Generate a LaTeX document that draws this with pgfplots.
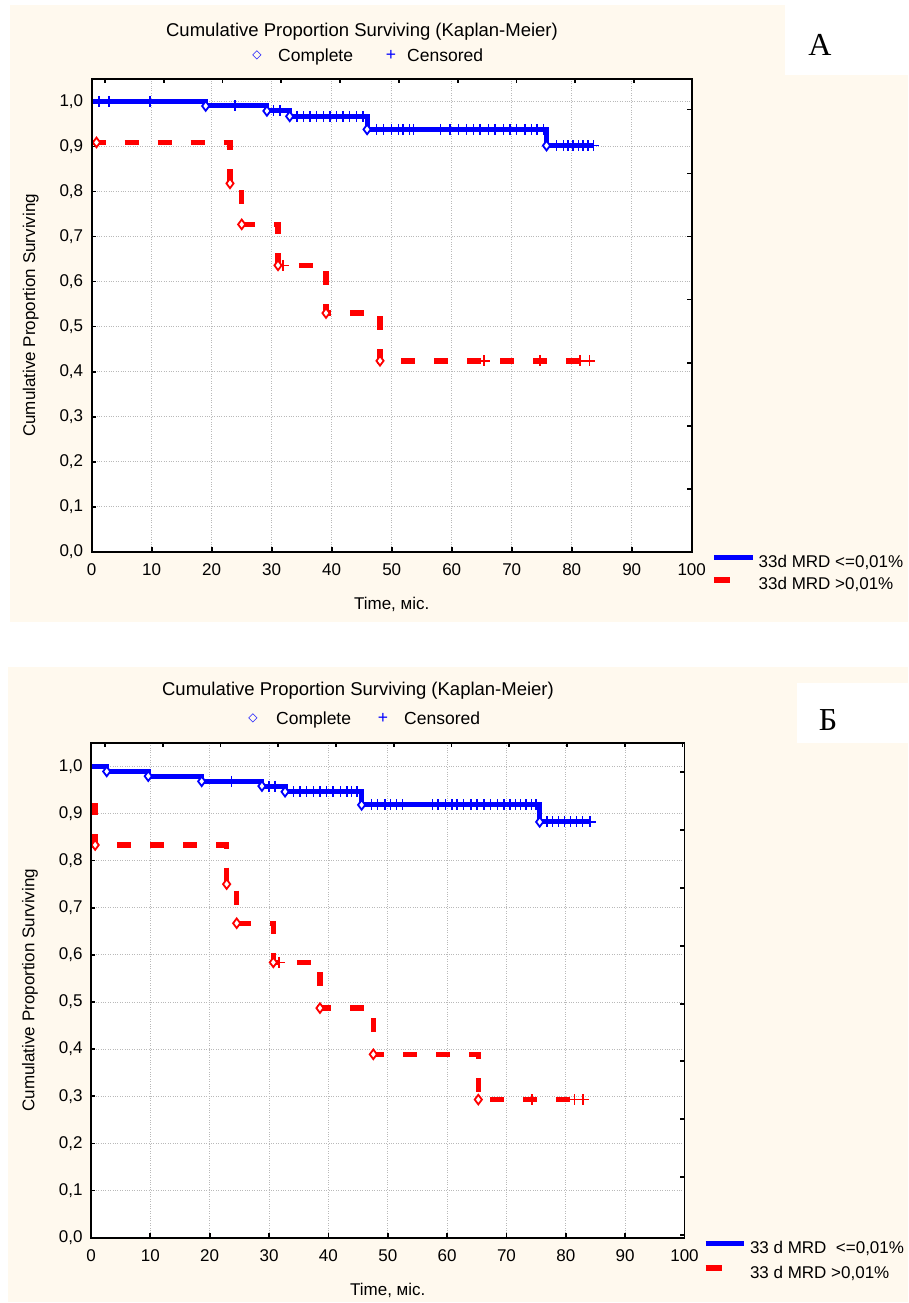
\documentclass[border=0pt]{standalone}
\usepackage{fontspec}
\setmainfont{Liberation Sans}
\newfontfamily\serif{Liberation Serif}
\newfontfamily\dejavu{DejaVu Sans}
\usepackage{pgfplots}
\pgfplotsset{compat=1.18}

\definecolor{bg}{RGB}{255,249,238}
\definecolor{kmblue}{RGB}{0,0,255}
\definecolor{kmred}{RGB}{255,0,0}

\pgfplotsset{
  km/.style={
    scale only axis, anchor=south west,
    xmin=0, xmax=100, ymin=0, ymax=1.05,
    xtick={0,10,20,30,40,50,60,70,80,90,100},
    ytick={0,0.1,0.2,0.3,0.4,0.5,0.6,0.7,0.8,0.9,1.0},
    xtick pos=lower, ytick pos=lower, tick align=inside,
    major tick length=4.5pt,
    major tick style={black, line width=1.8pt},
    axis line style={black, line width=1.8pt},
    grid=major,
    major grid style={gray!55, dotted, line width=0.9pt},
    axis background/.style={fill=white},
    tick label style={font=\fontsize{17}{20}\selectfont},
    /pgf/number format/assume math mode=true,
    yticklabel style={/pgf/number format/fixed, /pgf/number format/fixed zerofill,
      /pgf/number format/precision=1, /pgf/number format/use comma, xshift=-5pt},
    xticklabel style={yshift=-8pt},
    every axis x label/.style={at={(rel axis cs:0.5,0)}, yshift=-52.6pt, anchor=center,
      font=\fontsize{17}{20}\selectfont},
    every axis y label/.style={at={(rel axis cs:0,0.5)}, xshift=-61pt, rotate=90, anchor=center,
      font=\fontsize{17}{20}\selectfont},
    legend cell align=left,
    legend style={draw=none, fill=none, inner sep=0pt, outer sep=0pt,
      font=\fontsize{17}{20}\selectfont,
      nodes={inner sep=0pt, text height=12pt, text depth=3.5pt}},
  },
  kmtop/.style={
    scale only axis, anchor=south west,
    xmin=0, xmax=100, ymin=0, ymax=1.05,
    xtick pos=upper, ytick pos=upper, tick align=inside,
    major tick length=4.5pt,
    major tick style={black, line width=1.8pt},
    axis line style={black, line width=1.8pt},
    xticklabels={}, yticklabels={},
  },
  bline/.style={kmblue, line width=5pt, const plot, line join=miter},
  rline/.style={kmred, line width=5.5pt, const plot, dash pattern=on 14pt off 19pt, line cap=butt},
  bdia/.style={only marks, mark=diamond*, mark size=4.8pt, mark options={draw=kmblue, fill=white, line width=1.8pt, solid}},
  rdia/.style={only marks, mark=diamond*, mark size=4.8pt, mark options={draw=kmred, fill=white, line width=1.8pt, solid}},
  bcross/.style={only marks, mark=+, mark size=5.5pt, mark options={kmblue, line width=1.5pt}},
  rcross/.style={only marks, mark=+, mark size=5.5pt, mark options={kmred, line width=1.5pt}},
}

\begin{document}
\begin{tikzpicture}
\path[use as bounding box] (0pt,0pt) rectangle (908pt,1303pt);
\fill[white] (0pt,0pt) rectangle (908pt,1303pt);
% panel backgrounds
\fill[bg] (10pt,681.3pt) rectangle (908pt,1298pt);
\fill[white] (785pt,1228pt) rectangle (908pt,1303pt);
\fill[bg] (8pt,1.3pt) rectangle (908pt,636pt);
\fill[white] (797pt,560pt) rectangle (908pt,620pt);

% ---------- panel A ----------
\begin{axis}[km, at={(91.7pt,751.3pt)}, width=600pt, height=472.7pt,
  xlabel={Time, міс.},
  ylabel={Cumulative Proportion Surviving},
  legend style={at={(rel axis cs:1,0)}, anchor=north west, xshift=19.5pt, yshift=-3.1pt,
    row sep=5.5pt, column sep=3pt},
]
\addplot[bline, legend image code/.code={\draw[kmblue, solid, line width=5pt] (0pt,6pt) -- (39pt,6pt);}]
  coordinates {(0,1.0) (19,0.990) (29.2,0.979) (33,0.967) (45.9,0.938) (75.8,0.902) (83.6,0.902)};
\addlegendentry{33d MRD <=0,01\%}
\addplot[rline, legend image code/.code={\draw[kmred, solid, line width=6pt] (0pt,6pt) -- (16pt,6pt);}]
  coordinates {(0,0.909) (23.05,0.818) (25.0,0.727) (31.05,0.636) (39.05,0.530) (48.05,0.424) (83.0,0.424)};
\addlegendentry{33d MRD >0,01\%}
\addplot[bcross, forget plot] coordinates {
  (1.2,1.0) (2.9,1.0) (9.7,1.0) (23.9,0.990) (30.3,0.979) (31.4,0.979)
  (34.2,0.967) (35.3,0.967) (36.4,0.967) (37.5,0.967) (38.6,0.967) (39.7,0.967)
  (40.8,0.967) (41.9,0.967) (43.0,0.967) (44.1,0.967) (45.2,0.967)
  (47.5,0.938) (48.6,0.938) (50.0,0.938) (51.1,0.938) (51.9,0.938) (53.0,0.938)
  (53.6,0.938) (58.1,0.938) (59.7,0.938) (61.1,0.938) (62.5,0.938) (63.6,0.938)
  (64.7,0.938) (66.1,0.938) (67.2,0.938) (68.6,0.938) (69.7,0.938) (70.8,0.938)
  (72.2,0.938) (73.3,0.938) (74.2,0.938) (75.3,0.938)
  (77.5,0.902) (78.6,0.902) (79.4,0.902) (80.2,0.902) (81.1,0.902) (81.9,0.902)
  (82.7,0.902) (83.6,0.902)};
\addplot[bdia, forget plot] coordinates {
  (19,0.990) (29.2,0.979) (33,0.967) (45.9,0.938) (75.8,0.902)};
\addplot[rcross, forget plot] coordinates {
  (31.9,0.636) (65.4,0.424) (74.7,0.424) (81.4,0.424) (83.0,0.424)};
\addplot[rdia, forget plot] coordinates {
  (0.8,0.909) (23.05,0.818) (25.0,0.727) (31.05,0.636) (39.05,0.530) (48.05,0.424)};
\end{axis}
\begin{axis}[kmtop, at={(91.7pt,751.3pt)}, width=600pt, height=472.7pt,
  xtick={2.2,12.0,21.8,31.6,41.4,51.2,61.0,70.8,80.6,90.4},
  ytick={0.139,0.279,0.419,0.560,0.700,0.840,0.982}]
\end{axis}
\node[font=\fontsize{18.5}{22}\selectfont] at (362pt,1271pt) {Cumulative Proportion Surviving (Kaplan-Meier)};
\node[kmblue, inner sep=0pt, font=\dejavu\fontsize{12}{12}\selectfont] at (257pt,1248pt) {◇};
\node[anchor=base west, inner sep=0pt, font=\fontsize{17.5}{21}\selectfont] at (278pt,1241.9pt) {Complete};
\node[kmblue, inner sep=0pt, font=\fontsize{17.5}{21}\selectfont] at (391pt,1248pt) {+};
\node[anchor=base west, inner sep=0pt, font=\fontsize{17.5}{21}\selectfont] at (407pt,1241.9pt) {Censored};
\node[font=\serif\fontsize{32}{32}\selectfont] at (820pt,1258pt) {А};

% ---------- panel B ----------
\begin{axis}[km, at={(91pt,65.3pt)}, width=593.5pt, height=495pt,
  xlabel={Time, міс.},
  ylabel={Cumulative Proportion Surviving},
  legend style={at={(rel axis cs:1,0)}, anchor=north west, xshift=18pt, yshift=-3.1pt,
    row sep=7.8pt, column sep=4pt},
]
\addplot[bline, legend image code/.code={\draw[kmblue, solid, line width=5pt] (0pt,6pt) -- (38pt,6pt);}]
  coordinates {(0,1.0) (2.65,0.989) (9.65,0.979) (18.65,0.968) (28.8,0.958) (32.7,0.946) (45.6,0.918) (75.6,0.882) (84.1,0.882)};
\addlegendentry{33 d MRD \ <=0,01\%}
\addplot[rline, legend image code/.code={\draw[kmred, solid, line width=6pt] (0pt,6pt) -- (16pt,6pt);}]
  coordinates {(0,0.917) (0.7,0.833) (22.86,0.750) (24.55,0.667) (30.72,0.584) (38.58,0.487) (47.57,0.389) (65.26,0.293) (82.9,0.293)};
\addlegendentry{33 d MRD >0,01\%}
\addplot[bcross, forget plot] coordinates {
  (23.7,0.968) (30.0,0.958) (31.0,0.958)
  (34.1,0.946) (35.2,0.946) (36.3,0.946) (37.5,0.946) (38.6,0.946) (39.7,0.946)
  (40.8,0.946) (42.0,0.946) (43.1,0.946) (43.9,0.946) (44.8,0.946)
  (47.3,0.918) (48.3,0.918) (49.5,0.918) (50.5,0.918) (51.5,0.918) (52.5,0.918)
  (57.5,0.918) (58.5,0.918) (59.7,0.918) (60.8,0.918) (61.7,0.918) (62.8,0.918)
  (64.0,0.918) (65.0,0.918) (66.2,0.918) (67.3,0.918) (68.5,0.918) (69.6,0.918)
  (70.6,0.918) (71.5,0.918) (72.4,0.918) (73.3,0.918) (74.2,0.918) (75.0,0.918)
  (76.8,0.882) (77.8,0.882) (78.8,0.882) (79.8,0.882) (80.8,0.882) (81.8,0.882)
  (82.8,0.882) (84.1,0.882)};
\addplot[bdia, forget plot] coordinates {
  (2.65,0.989) (9.65,0.979) (18.65,0.968) (28.8,0.958) (32.7,0.946) (45.6,0.918) (75.6,0.882)};
\addplot[rcross, forget plot] coordinates {
  (31.7,0.584) (74.3,0.293) (81.5,0.293) (82.9,0.293)};
\addplot[rdia, forget plot] coordinates {
  (0.7,0.833) (22.86,0.750) (24.55,0.667) (30.72,0.584) (38.58,0.487) (47.57,0.389) (65.26,0.293)};
\end{axis}
\begin{axis}[kmtop, at={(91pt,65.3pt)}, width=593.5pt, height=495pt,
  xtick={2.36,12.09,21.82,31.55,41.28,51.01,60.74,70.47,80.2,89.93,99.66},
  ytick={0.005,0.128,0.251,0.374,0.496,0.619,0.742,0.865,0.988}]
\end{axis}
\node[font=\fontsize{18.5}{22}\selectfont] at (358pt,612.3pt) {Cumulative Proportion Surviving (Kaplan-Meier)};
\node[kmblue, inner sep=0pt, font=\dejavu\fontsize{12}{12}\selectfont] at (253pt,585pt) {◇};
\node[anchor=base west, inner sep=0pt, font=\fontsize{17.5}{21}\selectfont] at (276pt,578.9pt) {Complete};
\node[kmblue, inner sep=0pt, font=\fontsize{17.5}{21}\selectfont] at (383pt,585pt) {+};
\node[anchor=base west, inner sep=0pt, font=\fontsize{17.5}{21}\selectfont] at (404pt,578.9pt) {Censored};
\node[font=\serif\fontsize{32}{32}\selectfont] at (828pt,583pt) {Б};
\end{tikzpicture}
\end{document}
